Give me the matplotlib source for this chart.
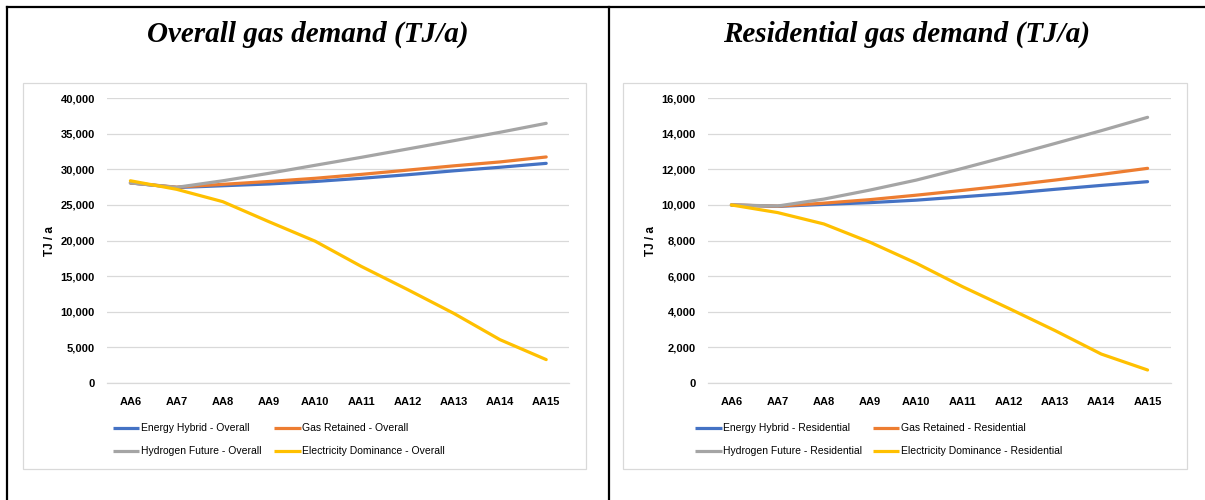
import matplotlib
matplotlib.use("Agg")
import matplotlib.pyplot as plt
from matplotlib.lines import Line2D
from matplotlib.patches import Rectangle
from matplotlib.ticker import FuncFormatter, MultipleLocator

# ---- data -------------------------------------------------------------
categories = ["AA6", "AA7", "AA8", "AA9", "AA10", "AA11", "AA12", "AA13", "AA14", "AA15"]

overall_energy_hybrid = [28100, 27450, 27700, 27950, 28300, 28750, 29250, 29800, 30300, 30850]
overall_gas_retained = [28100, 27500, 27900, 28300, 28750, 29300, 29900, 30500, 31050, 31750]
overall_hydrogen_future = [28100, 27480, 28400, 29450, 30580, 31700, 32870, 34040, 35220, 36480]
overall_electricity_dominance = [28400, 27200, 25460, 22640, 19900, 16350, 13100, 9750, 6050, 3250]

res_energy_hybrid = [10000, 9920, 10030, 10130, 10270, 10460, 10650, 10880, 11100, 11310]
res_gas_retained = [10000, 9930, 10100, 10300, 10550, 10820, 11100, 11400, 11720, 12060]
res_hydrogen_future = [10000, 9940, 10330, 10840, 11400, 12060, 12750, 13460, 14180, 14930]
res_electricity_dominance = [10000, 9570, 8930, 7900, 6720, 5400, 4180, 2930, 1610, 715]

scenario_names = ["Energy Hybrid", "Gas Retained", "Hydrogen Future", "Electricity Dominance"]
scenario_colors = ["#4472C4", "#ED7D31", "#A5A5A5", "#FFC000"]

# ---- figure layout (pixel based) --------------------------------------
W, H = 1205, 500
fig = plt.figure(figsize=(W / 100, H / 100), dpi=100)
fig.patch.set_facecolor("white")


def fx(px):
    return px / W


def fy(py):
    return 1 - py / H


# table borders around the two panels
for xs, ys in [((7, W), (7, 7)), ((7.5, 7.5), (7, H)), ((609, 609), (7, H))]:
    fig.add_artist(Line2D([fx(x) for x in xs], [fy(y) for y in ys],
                          color="black", lw=1.6, solid_capstyle="projecting"))

title_font = dict(family="Liberation Serif", weight="bold", style="italic", size=21)
tick_font = dict(family="Liberation Sans", weight="bold", size=8)
legend_font = dict(family="Liberation Sans", size=7.5)
GRID = "#D9D9D9"


def draw_panel(title, title_x, box, plot, series, ymax, ystep, suffix, legend_cols):
    fig.text(fx(title_x), fy(34), title, ha="center", va="center", **title_font)

    bx0, by0, bx1, by1 = box
    fig.add_artist(Rectangle((fx(bx0), fy(by1)), fx(bx1 - bx0), (by1 - by0) / H,
                             transform=fig.transFigure, fill=False,
                             edgecolor=GRID, lw=0.9))

    px0, py0, px1, py1 = plot
    ax = fig.add_axes([fx(px0), fy(py1), fx(px1 - px0), (py1 - py0) / H])
    x = list(range(len(categories)))
    for name, color, values in zip(scenario_names, scenario_colors, series):
        ax.plot(x, values, color=color, lw=2.3, solid_capstyle="round", zorder=3)

    ax.set_xlim(-0.5, len(categories) - 0.5)
    ax.set_ylim(0, ymax)
    ax.yaxis.set_major_locator(MultipleLocator(ystep))
    ax.yaxis.set_major_formatter(FuncFormatter(lambda v, p: f"{int(v):,}"))
    ax.set_xticks(x)
    ax.set_xticklabels(categories)
    for lab in ax.get_xticklabels() + ax.get_yticklabels():
        lab.set_fontfamily(tick_font["family"])
        lab.set_fontweight(tick_font["weight"])
        lab.set_fontsize(tick_font["size"])
    ax.tick_params(axis="both", length=0)
    ax.tick_params(axis="y", pad=9)
    ax.tick_params(axis="x", pad=10)
    for s in ax.spines.values():
        s.set_visible(False)
    ax.grid(axis="y", color=GRID, lw=0.9)
    ax.axhline(0, color=GRID, lw=0.9, clip_on=False, zorder=1)
    ax.set_axisbelow(True)
    ax.set_ylabel("TJ / a", fontfamily="Liberation Sans", fontweight="bold", fontsize=8.5)
    ax.yaxis.set_label_coords(-0.111, 0.5)

    # legend: two rows, filled row by row
    rows_y = [427.7, 451.0]
    for i, (name, color) in enumerate(zip(scenario_names, scenario_colors)):
        hx = legend_cols[i % 2]
        ry = rows_y[i // 2]
        fig.add_artist(Line2D([fx(hx), fx(hx + 26.5)], [fy(ry), fy(ry)],
                              color=color, lw=2.3, solid_capstyle="butt"))
        fig.text(fx(hx + 28), fy(ry), f"{name} - {suffix}", ha="left", va="center",
                 **legend_font)
    return ax


draw_panel("Overall gas demand (TJ/a)", 308,
           (23, 83, 586, 469), (107.3, 98.3, 569.3, 382.7),
           [overall_energy_hybrid, overall_gas_retained,
            overall_hydrogen_future, overall_electricity_dominance],
           40000, 5000, "Overall", (112.7, 274.0))

draw_panel("Residential gas demand (TJ/a)", 907,
           (623, 83, 1187, 469), (708.3, 98.3, 1170.7, 382.7),
           [res_energy_hybrid, res_gas_retained,
            res_hydrogen_future, res_electricity_dominance],
           16000, 2000, "Residential", (695.0, 872.7))

fig.savefig("out.png", dpi=100, facecolor="white")
